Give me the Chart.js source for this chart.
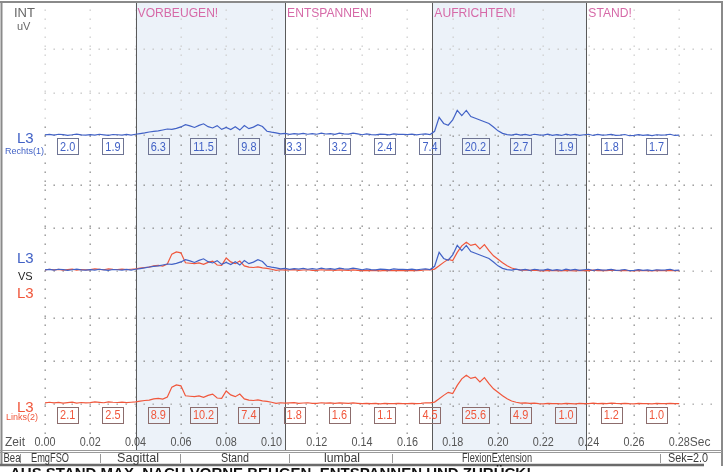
<!DOCTYPE html>
<html>
<head>
<meta charset="utf-8">
<script src="https://cdn.jsdelivr.net/npm/chart.js@4.4.1/dist/chart.umd.min.js"></script>
<style>
  html, body { margin: 0; padding: 0; background: #fff; }
  canvas { display: block; }
</style>
</head>
<body>
<canvas id="emg" width="725" height="472"></canvas>
<script>
// ---- Data -------------------------------------------------------------
const SAMPLE_STEP = 0.002; // seconds between samples

// L3 right side, smoothed EMG in µV
const RIGHT_UV = [
  1.8, 2.4, 1.6, 2.6, 2.2, 1.4, 2.0, 2.8, 1.8, 1.6,
  2.2, 1.5, 2.6, 1.9, 1.2, 2.3, 2.0, 1.6, 2.4, 1.5,
  2.6, 3.4, 4.1, 5.2, 5.8, 6.4, 7.5, 8.6, 8.2, 9.4,
  11.0, 13.5, 12.2, 10.4, 12.8, 14.6, 11.3, 9.8, 12.5, 8.2,
  10.5, 8.0, 11.2, 7.4, 12.6, 9.0, 10.8, 13.6, 11.5, 6.0,
  5.0, 4.2, 3.0, 3.6, 2.4, 3.4, 2.8, 3.5, 2.6, 3.2,
  2.6, 3.8, 2.9, 3.4, 2.5, 3.9, 3.0, 2.7, 3.8, 3.1,
  2.0, 2.9, 2.2, 1.8, 2.8, 2.5, 1.9, 2.9, 2.4, 2.6,
  2.2, 2.8, 1.9, 2.6, 3.0, 2.2, 6.0, 22.0, 15.0, 13.0,
  19.0, 30.0, 24.0, 30.0, 23.0, 21.0, 19.0, 17.0, 15.0, 11.0,
  6.5, 3.6, 2.2, 1.6, 2.8, 1.5, 2.4, 1.2, 2.6, 1.8,
  1.5, 2.6, 1.4, 2.2, 1.2, 2.8, 1.6, 2.4, 1.3, 2.0,
  2.6, 1.2, 2.4, 1.5, 1.9, 2.5, 1.3, 1.6, 2.3, 0.9,
  1.4, 2.2, 1.3, 1.9, 1.1, 2.0, 1.5, 1.8, 2.6, 1.2, 1.6
];

// L3 left side, smoothed EMG in µV
const LEFT_UV = [
  1.8, 2.6, 1.9, 2.4, 1.6, 2.2, 2.8, 1.7, 2.3, 1.9,
  2.2, 2.9, 2.4, 2.0, 3.1, 2.6, 2.3, 2.8, 2.1, 2.6,
  3.0, 3.8, 4.6, 5.0, 6.4, 7.0, 6.2, 8.5, 20.0, 22.5,
  21.5, 10.0, 9.5, 9.0, 9.8, 8.2, 10.5, 12.0, 7.5, 7.0,
  15.5, 11.0, 9.0, 12.0, 6.5, 5.0, 4.6, 5.4, 4.2, 3.6,
  2.6, 1.4, 2.0, 1.5, 1.9, 2.2, 1.3, 1.7, 2.0, 1.4,
  1.3, 2.0, 1.5, 1.8, 1.2, 1.9, 1.6, 1.4, 1.9, 1.4,
  0.9, 1.4, 1.0, 1.2, 0.8, 1.3, 1.1, 0.9, 1.4, 1.0,
  1.0, 1.4, 0.9, 1.2, 2.0, 1.8, 2.8, 6.5, 10.5, 14.0,
  12.5, 22.0, 29.5, 33.5, 30.0, 31.5, 26.0, 31.0, 24.0, 18.0,
  14.0, 10.0, 6.5, 4.0, 2.6, 1.6, 1.9, 1.2, 1.5, 1.0,
  0.8, 1.3, 0.9, 1.1, 0.7, 1.2, 1.0, 0.8, 1.3, 0.9,
  1.0, 1.5, 1.1, 1.3, 0.9, 1.6, 1.2, 1.0, 1.4, 1.0,
  0.8, 1.2, 0.9, 1.1, 0.7, 1.3, 1.0, 0.9, 1.2, 0.9, 1.1
];

const TIME_TICKS  = [0.00, 0.02, 0.04, 0.06, 0.08, 0.10, 0.12, 0.14, 0.16, 0.18, 0.20, 0.22, 0.24, 0.26, 0.28];
const TICK_LABELS = ['0.00', '0.02', '0.04', '0.06', '0.08', '0.10', '0.12', '0.14', '0.16', '0.18', '0.20', '0.22', '0.24', '0.26', '0.28'];

const PHASE_STARTS  = [0.040, 0.106, 0.171, 0.239];
const PHASE_LABELS  = ['VORBEUGEN!', 'ENTSPANNEN!', 'AUFRICHTEN!', 'STAND!'];
const SHADED_PHASES = [[0.040, 0.106], [0.171, 0.239]];

// mean value per 0.02 s window
const INTERVAL_MIDS = [0.01, 0.03, 0.05, 0.07, 0.09, 0.11, 0.13, 0.15, 0.17, 0.19, 0.21, 0.23, 0.25, 0.27];
const RIGHT_MEANS   = [2.0, 1.9, 6.3, 11.5, 9.8, 3.3, 3.2, 2.4, 7.4, 20.2, 2.7, 1.9, 1.8, 1.7];
const LEFT_MEANS    = [2.1, 2.5, 8.9, 10.2, 7.4, 1.8, 1.6, 1.1, 4.5, 25.6, 4.9, 1.0, 1.2, 1.0];

const GRID_UV = [50, 100];

const INFO_FIELDS = ['Bea', 'EmgFSO', 'Sagittal', 'Stand', 'lumbal', 'FlexionExtension', 'Sek=2.0'];
const FOOTER_TEXT = 'AUS STAND MAX. NACH VORNE BEUGEN, ENTSPANNEN UND ZURÜCK!';

// ---- Layout & style -----------------------------------------------------
const AREA = { left: 45, right: 720, top: 3, bottom: 450 };
const X_MAX = 0.298;
const PX_PER_UV = 0.87;
const ZERO_Y = { yR: 136.5, yV: 271.5, yL: 404.5 };

const BLUE = '#4262c6';
const RED = '#f0573c';
const PINK = '#d66aa8';
const FONT = '"Liberation Sans", Arial, sans-serif';

function rangeFor(zeroY) {
  return {
    min: -(AREA.bottom - zeroY) / PX_PER_UV,
    max: (zeroY - AREA.top) / PX_PER_UV
  };
}

function toPoints(values) {
  return values.map((v, i) => ({ x: +(i * SAMPLE_STEP).toFixed(3), y: v }));
}

function dotsH(ctx, y, x0, x1, color) {
  ctx.fillStyle = color;
  for (let x = x0; x <= x1; x += 9) ctx.fillRect(Math.round(x) - 0.5, Math.round(y) - 0.5, 1.4, 1.4);
}
function dotsV(ctx, x, y0, y1, colorFn) {
  for (let y = y0; y <= y1; y += 9) {
    ctx.fillStyle = colorFn(y);
    ctx.fillRect(Math.round(x) - 0.5, Math.round(y) - 0.5, 1.4, 1.4);
  }
}
function condensedText(ctx, text, x, y, squeeze) {
  const w = ctx.measureText(text).width;
  ctx.fillText(text, x, y, w * squeeze);
  return w * squeeze;
}

const emgFrame = {
  id: 'emgFrame',
  beforeDatasetsDraw(chart) {
    const { ctx, chartArea: a, scales } = chart;
    const xs = scales.x;
    ctx.save();

    // shaded movement phases
    ctx.fillStyle = '#ecf2f9';
    SHADED_PHASES.forEach(([s, e]) => {
      const x0 = xs.getPixelForValue(s), x1 = xs.getPixelForValue(e);
      ctx.fillRect(x0, a.top, x1 - x0, a.bottom - a.top);
    });

    // dotted time grid
    TIME_TICKS.forEach(t => {
      dotsV(ctx, xs.getPixelForValue(t), 10, 434, y => (y < 122 ? '#cfcfcf' : '#8c8c8c'));
    });

    // dotted amplitude grid for each channel
    ['yR', 'yV', 'yL'].forEach(id => {
      const s = scales[id];
      GRID_UV.forEach(v => {
        dotsH(ctx, s.getPixelForValue(v), a.left, 716, id === 'yR' ? '#c6c6c6' : '#8c8c8c');
      });
      dotsH(ctx, s.getPixelForValue(0) - 1, a.left, 716, '#a8a8a8');
    });

    // phase boundaries
    ctx.strokeStyle = '#5a5a5a';
    ctx.lineWidth = 1;
    PHASE_STARTS.forEach(t => {
      const x = Math.round(xs.getPixelForValue(t)) + 0.5;
      ctx.beginPath();
      ctx.moveTo(x, a.top);
      ctx.lineTo(x, a.bottom);
      ctx.stroke();
    });
    ctx.restore();
  },
  afterDatasetsDraw(chart) {
    const { ctx, scales } = chart;
    const xs = scales.x;
    ctx.save();

    // phase captions
    ctx.fillStyle = PINK;
    ctx.font = '13px ' + FONT;
    ctx.textBaseline = 'alphabetic';
    ctx.textAlign = 'left';
    PHASE_LABELS.forEach((label, i) => {
      condensedText(ctx, label, xs.getPixelForValue(PHASE_STARTS[i]) + 2, 17, 0.93);
    });

    // window mean boxes
    const drawBoxes = (means, axis, textColor, boxColor) => {
      const yc = scales[axis].getPixelForValue(0) + 10;
      ctx.font = '13px ' + FONT;
      ctx.textAlign = 'center';
      ctx.textBaseline = 'middle';
      means.forEach((m, i) => {
        const label = m.toFixed(1);
        const xc = xs.getPixelForValue(INTERVAL_MIDS[i]);
        const w = ctx.measureText(label).width * 0.84;
        ctx.strokeStyle = boxColor;
        ctx.lineWidth = 1;
        ctx.strokeRect(Math.round(xc - w / 2 - 3) + 0.5, Math.round(yc - 8) + 0.5, Math.round(w + 6), 16);
        ctx.fillStyle = textColor;
        ctx.fillText(label, xc, yc + 1, w);
      });
    };
    drawBoxes(RIGHT_MEANS, 'yR', BLUE, '#6e7494');
    drawBoxes(LEFT_MEANS, 'yL', RED, '#8c6c6c');

    // channel captions
    ctx.textAlign = 'left';
    ctx.textBaseline = 'alphabetic';
    ctx.fillStyle = '#666';
    ctx.font = '13px ' + FONT;
    ctx.fillText('INT', 14, 17);
    ctx.font = '11px ' + FONT;
    ctx.fillText('uV', 17, 30);

    const zR = scales.yR.getPixelForValue(0);
    const zV = scales.yV.getPixelForValue(0);
    const zL = scales.yL.getPixelForValue(0);
    ctx.font = '15px ' + FONT;
    ctx.fillStyle = BLUE;
    ctx.fillText('L3', 17, zR + 6);
    ctx.fillText('L3', 17, zV - 9);
    ctx.fillStyle = RED;
    ctx.fillText('L3', 17, zV + 26);
    ctx.fillText('L3', 17, zL + 7.5);
    ctx.font = '11px ' + FONT;
    ctx.fillStyle = '#222';
    ctx.fillText('VS', 18, zV + 8);
    ctx.font = '9px ' + FONT;
    ctx.fillStyle = BLUE;
    ctx.fillText('Rechts(1)', 5, zR + 17.5);
    ctx.fillStyle = RED;
    ctx.fillText('Links(2)', 6, zL + 15);

    // time axis labels
    ctx.fillStyle = '#555';
    ctx.font = '12px ' + FONT;
    ctx.textBaseline = 'middle';
    ctx.fillText('Zeit', 5, 443);
    ctx.textAlign = 'center';
    TICK_LABELS.forEach((lab, i) => {
      const x = xs.getPixelForValue(TIME_TICKS[i]);
      const w = ctx.measureText(lab).width * 0.9;
      ctx.fillText(lab, x, 443, w);
      if (i === TICK_LABELS.length - 1) {
        ctx.textAlign = 'left';
        ctx.fillText('Sec', x + w / 2, 443, 22);
        ctx.textAlign = 'center';
      }
    });

    // frame and info rows
    ctx.strokeStyle = '#8a8a8a';
    ctx.lineWidth = 2;
    ctx.beginPath();
    ctx.moveTo(0, 2); ctx.lineTo(723, 2);
    ctx.moveTo(722, 2); ctx.lineTo(722, 466);
    ctx.moveTo(1.5, 2); ctx.lineTo(1.5, 466);
    ctx.stroke();
    ctx.lineWidth = 1;
    ctx.strokeStyle = '#9a9a9a';
    ctx.beginPath();
    ctx.moveTo(0, 450.5); ctx.lineTo(722, 450.5);
    ctx.moveTo(0, 452.5); ctx.lineTo(722, 452.5);
    ctx.stroke();
    ctx.strokeStyle = '#6a6a6a';
    ctx.lineWidth = 2.5;
    ctx.beginPath();
    ctx.moveTo(0, 465); ctx.lineTo(704, 465);
    ctx.stroke();

    const seps = [20, 100, 180, 289, 392, 660];
    ctx.strokeStyle = '#9a9a9a';
    ctx.lineWidth = 1;
    seps.forEach(x => {
      ctx.beginPath();
      ctx.moveTo(x + 0.5, 454); ctx.lineTo(x + 0.5, 463);
      ctx.stroke();
    });
    const fieldCenters = [12, 50, 138, 235, 342, 497, 688];
    const fieldWidths  = [17, 38, 42, 28, 36, 70, 40];
    ctx.fillStyle = '#3a3a3a';
    ctx.font = '13px ' + FONT;
    ctx.textAlign = 'center';
    ctx.textBaseline = 'middle';
    INFO_FIELDS.forEach((f, i) => ctx.fillText(f, fieldCenters[i], 458.5, fieldWidths[i]));

    ctx.fillStyle = '#111';
    ctx.font = 'bold 15px ' + FONT;
    ctx.textAlign = 'left';
    ctx.textBaseline = 'alphabetic';
    ctx.fillText(FOOTER_TEXT, 10, 477.5);
    ctx.restore();
  }
};

const lineStyle = { pointRadius: 0, borderWidth: 1.2, tension: 0, fill: false };

new Chart(document.getElementById('emg'), {
  type: 'line',
  data: {
    datasets: [
      { label: 'L3 Rechts(1)', data: toPoints(RIGHT_UV), yAxisID: 'yR', borderColor: BLUE, ...lineStyle },
      { label: 'L3 Rechts(1)', data: toPoints(RIGHT_UV), yAxisID: 'yV', borderColor: BLUE, ...lineStyle },
      { label: 'L3 Links(2)',  data: toPoints(LEFT_UV),  yAxisID: 'yV', borderColor: RED,  ...lineStyle },
      { label: 'L3 Links(2)',  data: toPoints(LEFT_UV),  yAxisID: 'yL', borderColor: RED,  ...lineStyle }
    ]
  },
  options: {
    responsive: false,
    devicePixelRatio: 1,
    animation: false,
    events: [],
    layout: { padding: { left: AREA.left, right: 725 - AREA.right, top: AREA.top, bottom: 472 - AREA.bottom } },
    plugins: { legend: { display: false }, tooltip: { enabled: false } },
    scales: {
      x:  { type: 'linear', min: 0, max: X_MAX, display: false },
      yR: { type: 'linear', position: 'left', display: false, ...rangeFor(ZERO_Y.yR) },
      yV: { type: 'linear', position: 'left', display: false, ...rangeFor(ZERO_Y.yV) },
      yL: { type: 'linear', position: 'left', display: false, ...rangeFor(ZERO_Y.yL) }
    }
  },
  plugins: [emgFrame]
});
</script>
</body>
</html>
